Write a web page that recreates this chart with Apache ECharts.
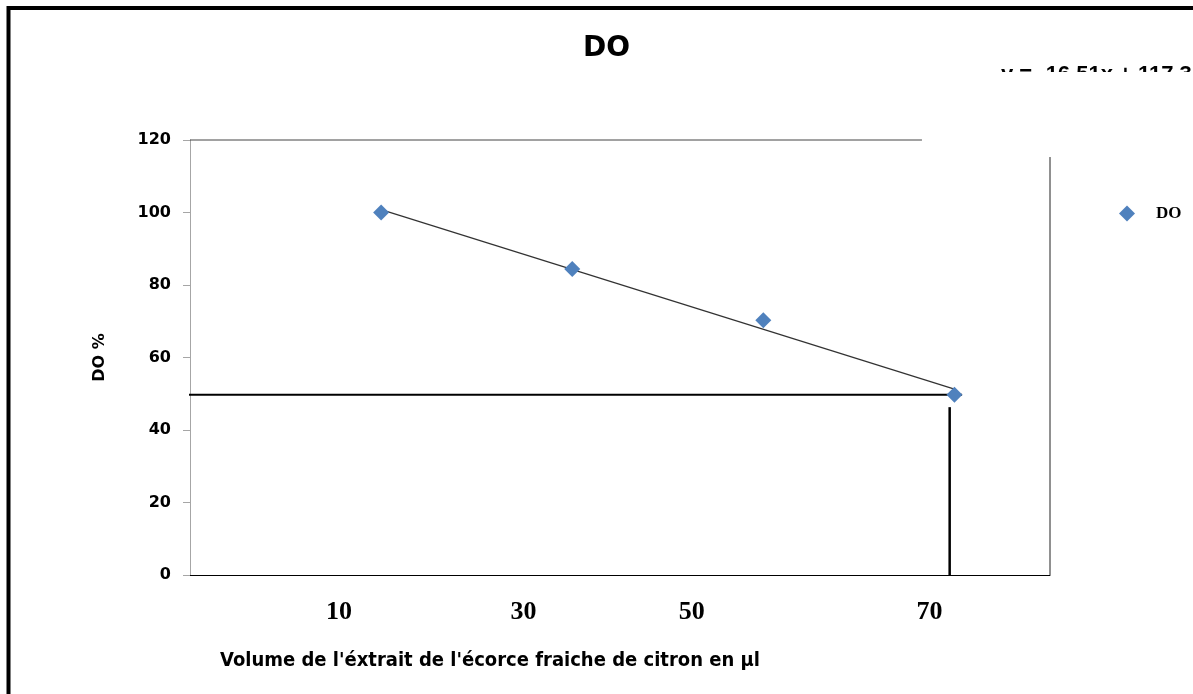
<!DOCTYPE html>
<html><head><meta charset="utf-8">
<script src="https://cdn.jsdelivr.net/npm/echarts@6/dist/echarts.min.js"></script>
<style>html,body{margin:0;padding:0;background:#fff}#c{width:1193px;height:694px}</style>
</head><body><div id="c"></div>
<script>
// ---- data ----
const volumes = [10, 30, 50, 70];
const doValues = [100, 84.4, 70.3, 49.7];
const xTickLabels = ['10', '30', '50', '70'];
const yMin = 0, yMax = 120, yStep = 20;
const trendSlope = -16.51, trendIntercept = 117.3;   // Excel trendline over point index 1..n
const trendEquation = 'y = -16.51x + 117.3';
const halfLevel = 49.7;     // horizontal guide (DO %)
const halfVolume = 69.5;    // vertical guide (volume)

// ---- layout (data-unit positions used only for placement) ----
const xAxisMin = -10, xAxisMax = 80;
const xTickLabelAt = [5.6, 24.9, 42.5, 67.4];
const hGuideFrom = -10.4, hGuideTo = 70.8, vGuideTop = 46.3;
const frameTopTo = 66.6, frameRightFrom = 115.3;

const scatterData = volumes.map((v, i) => [v, doValues[i]]);
const n = volumes.length;
const trendData = [[volumes[0], trendSlope * 1 + trendIntercept],
                   [volumes[n - 1], trendSlope * n + trendIntercept]];

const chart = echarts.init(document.getElementById('c'), null, {renderer: 'canvas'});
const plainLine = (name, data, color, width) => ({
  name, type: 'line', data, symbol: 'none', silent: true, clip: false,
  lineStyle: {color, width}, z: 3, animation: false
});

chart.setOption({
  animation: false,
  backgroundColor: '#fff',
  title: {
    text: 'DO', left: 578, top: 30,
    textStyle: {fontFamily: 'DejaVu Sans', fontWeight: 'bold', fontSize: 28, color: '#000'}
  },
  legend: {
    data: ['DO'], left: 1114, top: 200, itemWidth: 16, itemHeight: 16,
    itemStyle: {opacity: 1},
    textStyle: {fontFamily: 'Liberation Serif', fontWeight: 'bold', fontSize: 17, color: '#000', padding: [0, 0, 0, 16]}
  },
  grid: {left: 190, right: 143, top: 140, bottom: 119, containLabel: false},
  xAxis: {
    type: 'value', min: xAxisMin, max: xAxisMax,
    splitLine: {show: false},
    axisTick: {show: false},
    axisLine: {lineStyle: {color: '#000', width: 1}},
    axisLabel: {
      customValues: xTickLabelAt,
      formatter: (v) => { const k = xTickLabelAt.indexOf(v); return k >= 0 ? xTickLabels[k] : ''; },
      margin: 24,
      fontFamily: 'Liberation Serif', fontWeight: 'bold', fontSize: 26, color: '#000'
    },
    name: "Volume de l'éxtrait de l'écorce fraiche de citron en µl",
    nameLocation: 'middle', nameGap: 76,
    nameTextStyle: {fontFamily: '"DejaVu Sans Condensed", "Liberation Sans", sans-serif', fontWeight: 'bold', fontSize: 20, color: '#000', padding: [0, 260, 0, 0]}
  },
  yAxis: {
    type: 'value', min: yMin, max: yMax, interval: yStep,
    splitLine: {show: false},
    axisLine: {show: true, onZero: false, lineStyle: {color: '#a6a6a6', width: 1}},
    axisTick: {show: true, length: 7, lineStyle: {color: '#a6a6a6'}},
    axisLabel: {margin: 19, fontFamily: 'DejaVu Sans', fontWeight: 'bold', fontSize: 16, color: '#000'},
    name: 'DO %', nameLocation: 'middle', nameRotate: 90, nameGap: 82,
    nameTextStyle: {fontFamily: 'DejaVu Sans', fontWeight: 'bold', fontSize: 16, color: '#000'}
  },
  series: [
    plainLine('frameTop', [[xAxisMin, yMax], [frameTopTo, yMax]], '#444', 1),
    plainLine('frameRight', [[xAxisMax, frameRightFrom], [xAxisMax, yMin]], '#222', 1),
    plainLine('trend', trendData, '#333', 1.3),
    plainLine('guideH', [[hGuideFrom, halfLevel], [hGuideTo, halfLevel]], '#000', 2),
    plainLine('guideV', [[halfVolume, vGuideTop], [halfVolume, yMin]], '#000', 2.5),
    {
      name: 'DO', type: 'scatter', data: scatterData,
      symbol: 'diamond', symbolSize: 16, z: 5,
      itemStyle: {color: '#4F81BD', opacity: 1}
    }
  ],
  graphic: [
    {type: 'rect', shape: {x: 8.5, y: 8, width: 1300, height: 800}, style: {fill: 'none', stroke: '#000', lineWidth: 4}, z: 10},
    {type: 'text', left: 1001, top: 64, z: 1,
     style: {text: trendEquation, font: 'bold 22px "Liberation Sans"', fill: '#000'}},
    {type: 'rect', shape: {x: 990, y: 72, width: 210, height: 30}, style: {fill: '#fff'}, z: 2}
  ]
});
</script></body></html>
